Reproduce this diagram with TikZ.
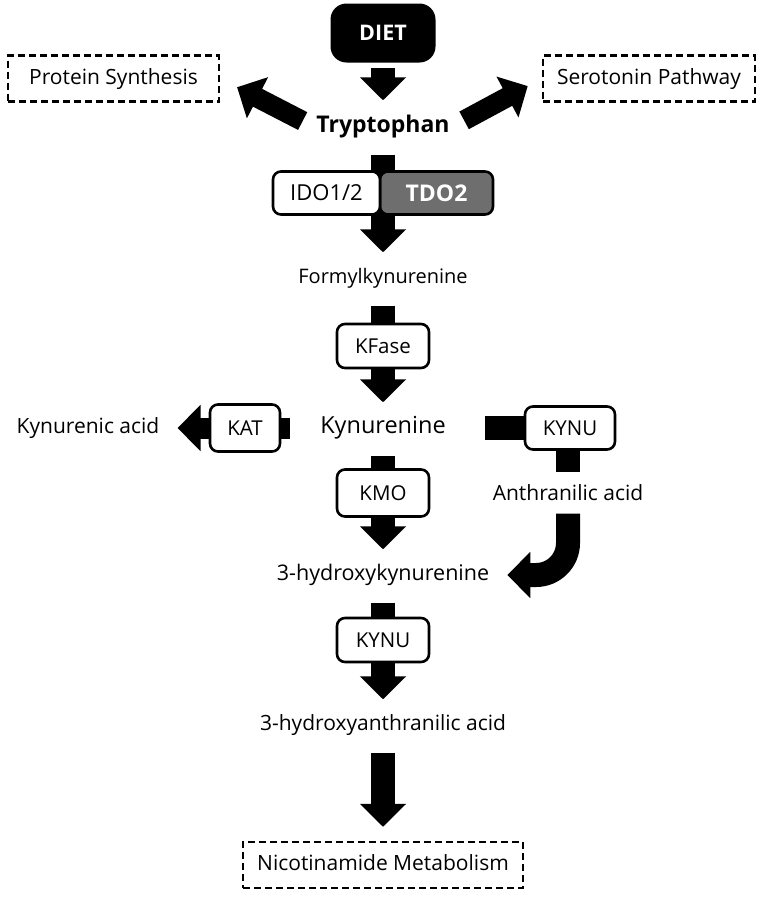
\documentclass[tikz,border=0pt]{standalone}
\usepackage{fontspec}
\setmainfont{Open Sans}
\usetikzlibrary{positioning,arrows.meta,calc}
\pgfdeclarelayer{bg}
\pgfsetlayers{bg,main}

\tikzset{
  compound/.style={font=\fontsize{21}{25}\selectfont, inner sep=2pt, text height=16pt, text depth=5pt},
  fate/.style={draw, line width=2.4pt, dash pattern=on 7pt off 4pt, compound, minimum height=46pt},
  enzyme/.style={draw, line width=2.6pt, rounded corners=8pt, fill=white, minimum width=92pt, minimum height=44pt, font=\fontsize{20.5}{24}\selectfont},
  fat/.style={line width=24pt, -{Triangle[width=45pt,length=23pt]}, shorten <=15pt, shorten >=13pt},
}

\begin{document}
\begin{tikzpicture}[x=1pt, y=1pt, on grid, node distance=150pt]
\useasboundingbox (0,0) rectangle (762,-900);
% main chain
\node[fill=black, text=white, rounded corners=16pt, minimum width=105pt, minimum height=59pt, font=\fontsize{21.5}{24}\selectfont\bfseries] (diet) at (383,-33) {DIET};
\node[compound, font=\fontsize{23}{26}\selectfont\bfseries] (trp) [below=94pt of diet] {Tryptophan};
\node[compound, font=\fontsize{20}{24}\selectfont] (fk) [below=151pt of trp] {Formylkynurenine};
\node[compound, font=\fontsize{23.5}{27}\selectfont] (kyn) [below=150pt of fk] {Kynurenine};
\node[compound, font=\fontsize{21.5}{25}\selectfont] (hk) [below=147pt of kyn] {3-hydroxykynurenine};
\node[compound] (haa) [below=150pt of hk] {3-hydroxyanthranilic acid};
\node[fate, minimum width=280pt] (nic) [below=140pt of haa] {Nicotinamide Metabolism};
% side products
\node[fate, minimum width=211pt] (prot) at (113.5,-78.5) {Protein Synthesis};
\node[fate, minimum width=212pt] (sero) at (649,-78.5) {Serotonin Pathway};
\node[compound] (kna) [left=295pt of kyn] {Kynurenic acid};
\node[compound] (aa) at (568,-495) {Anthranilic acid};

% arrows behind the enzymes
\begin{pgfonlayer}{bg}
\draw[fat, shorten <=5pt, shorten >=14pt] (diet.south) -- (trp.north);
\draw[fat, line width=20pt, shorten <=13pt, shorten >=19pt] (trp.west) -- (prot.east);
\draw[fat, line width=20pt, shorten <=14pt, shorten >=16pt] (trp.east) -- (sero.west);
\draw[fat] (trp) -- (fk);
\draw[fat] (fk.south) -- (kyn.north);
\draw[fat] (kyn.south) -- (hk.north);
\draw[fat] (hk.south) -- (haa.north);
\draw[fat, shorten >=14pt] (haa.south) -- (nic.north);
\draw[fat, line width=21pt, shorten <=28pt, shorten >=16pt] (kyn.west) -- (kna.east);
\draw[line width=24pt, shorten <=37pt, shorten >=10pt] (kyn.east) -| (aa.north);
\draw[fat, rounded corners=32pt, shorten <=6pt, shorten >=16pt] (aa.south) |- (hk.east);
\end{pgfonlayer}

% enzymes
\node[enzyme, minimum width=113pt, minimum height=43pt, fill=black!57, text=white, font=\fontsize{23}{26}\selectfont\bfseries] (tdo) [below right=66pt and 53.5pt of trp] {TDO2};
\node[enzyme, minimum width=107pt, minimum height=43pt, font=\fontsize{22}{25}\selectfont] (ido) [below left=66pt and 56.5pt of trp] {IDO1/2};
\node[enzyme] (kfase) [below=68pt of fk] {KFase};
\node[enzyme, minimum height=47pt] (kmo) [below=65pt of kyn] {KMO};
\node[enzyme] (kynu) [below=65pt of hk] {KYNU};
\node[enzyme, minimum width=70pt, minimum height=47pt] (kat) [left=138pt of kyn] {KAT};
\node[enzyme, minimum width=90pt, minimum height=43pt] (kynu2) [right=187pt of kyn] {KYNU};
\end{tikzpicture}
\end{document}
